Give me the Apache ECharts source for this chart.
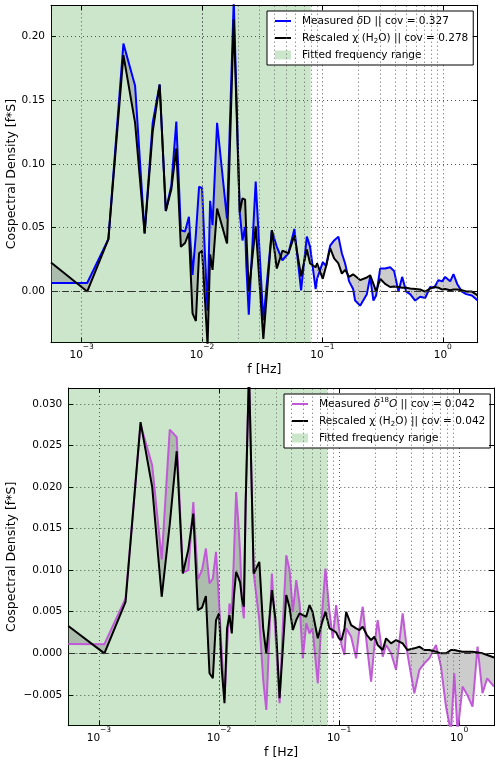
<!DOCTYPE html>
<html>
<head>
<meta charset="utf-8">
<title>Cospectra</title>
<script src="https://cdn.jsdelivr.net/npm/echarts@6/dist/echarts.min.js"></script>
<style>
  html, body { margin: 0; padding: 0; background: #fff; }
  #chart { width: 500px; height: 763px; }
</style>
</head>
<body>
<div id="chart"></div>
<script>
// ---- top panel: dD vs rescaled humidity ----
const freqD = [0.000556, 0.001111, 0.001667, 0.002222, 0.002778, 0.003333, 0.003889, 0.004444, 0.005, 0.005556,
  0.006111, 0.006667, 0.007222, 0.007778, 0.008333, 0.008889, 0.009444, 0.01, 0.010556, 0.011111,
  0.011667, 0.012222, 0.013333, 0.016111, 0.016667, 0.018333, 0.020556, 0.021667, 0.022778, 0.023333,
  0.024444, 0.0279, 0.0323, 0.038, 0.0418, 0.0465, 0.0522, 0.0585, 0.0665, 0.0742,
  0.079, 0.0878, 0.0903, 0.1007, 0.1073, 0.1159, 0.1251, 0.1358, 0.145, 0.1544,
  0.1666, 0.1799, 0.1869, 0.2057, 0.2339, 0.2491, 0.2653, 0.2795, 0.3017, 0.332,
  0.3653, 0.3943, 0.4282, 0.4597, 0.4963, 0.5357, 0.5895, 0.6486, 0.7137, 0.7855,
  0.848, 0.9209, 0.9883, 1.0467, 1.152, 1.227, 1.317, 1.441, 1.564, 1.745, 1.95]
const measuredD = [0.0067, 0.0067, 0.041, 0.194, 0.161, 0.0455, 0.132, 0.162, 0.063, 0.083,
  0.133, 0.048, 0.047, 0.0585, 0.013, 0.045, 0.082, 0.081, 0.030, -0.015,
  0.071, 0.052, 0.132, 0.057, 0.057, 0.228, 0.062, 0.040, 0.0506, 0.020,
  -0.018, 0.086, -0.0225, 0.048, 0.035, 0.0245, 0.030, 0.049, 0.001, 0.043,
  0.035, 0.002, 0.010, 0.023, 0.020, 0.036, 0.040, 0.043, 0.030, 0.022,
  0.008, 0.002, -0.007, -0.011, -0.002, 0.0115, -0.007, -0.003, 0.018, 0.018,
  0.019, 0.016, 0.000, 0.0115, 0.000, -0.002, -0.007, -0.004, -0.005, 0.0036,
  0.003, 0.009, 0.008, 0.0115, 0.008, 0.0136, 0.006, 0.000, -0.002, -0.003, -0.007]
const rescaledD = [0.0227, 0.0, 0.041, 0.185, 0.132, 0.0455, 0.125, 0.162, 0.063, 0.080,
  0.112, 0.035, 0.038, 0.046, -0.017, -0.023, 0.030, 0.032, -0.005, -0.042,
  0.029, 0.017, 0.065, 0.0376, 0.0376, 0.213, 0.062, 0.073, 0.072, 0.045,
  0.000, 0.051, -0.037, 0.048, 0.018, 0.032, 0.030, 0.044, 0.012, 0.033,
  0.022, 0.019, 0.022, 0.010, 0.020, 0.034, 0.026, 0.022, 0.014, 0.017,
  0.0115, 0.0135, 0.012, 0.009, 0.011, 0.0128, 0.006, 0.000, 0.010, 0.006,
  0.0036, 0.004, 0.0036, 0.003, 0.003, 0.0024, 0.002, 0.0016, 0.000, 0.0024,
  0.0036, 0.003, 0.0016, 0.002, 0.001, 0.0016, 0.0016, 0.001, 0.0, 0.0, -0.003]

// ---- bottom panel: d18O vs rescaled humidity ----
const freqO = [0.000556, 0.001111, 0.001667, 0.002222, 0.002778, 0.003333, 0.003889, 0.004444, 0.005, 0.005556,
  0.006111, 0.006667, 0.007222, 0.007778, 0.008333, 0.008889, 0.009444, 0.01, 0.010556, 0.011111,
  0.011667, 0.012222, 0.012778, 0.013333, 0.013889, 0.014444, 0.015, 0.015556, 0.016111, 0.016667,
  0.017778, 0.019444, 0.021667, 0.023333, 0.02477, 0.02757, 0.02959, 0.03195, 0.03417, 0.03632,
  0.0387, 0.04121, 0.04398, 0.04684, 0.04988, 0.05326, 0.05674, 0.0601, 0.0665, 0.0714,
  0.07702, 0.08318, 0.08859, 0.09458, 0.09979, 0.1047, 0.1109, 0.1145, 0.126, 0.1387,
  0.1477, 0.1573, 0.1705, 0.1848, 0.1969, 0.2097, 0.2308, 0.2462, 0.271, 0.2983,
  0.3384, 0.3703, 0.4233, 0.466, 0.5126, 0.5641, 0.6412, 0.7057, 0.7764, 0.8545,
  0.9103, 0.9696, 1.067, 1.168, 1.292, 1.422, 1.564, 1.712, 1.95]
const measuredO = [0.00112, 0.0011, 0.0066, 0.0275, 0.0226, 0.0113, 0.0269, 0.026, 0.0097, 0.0100,
  0.0182, 0.0089, 0.0100, 0.0126, 0.0084, 0.0090, 0.0122, 0.0062, 0.000, -0.0055,
  0.0006, 0.0060, 0.0048, 0.012, 0.0194, 0.0160, 0.0120, 0.0060, 0.0042, 0.018,
  0.034, 0.0096, 0.004, -0.0032, -0.0068, 0.0096, 0.002, -0.0060, 0.004, 0.0118,
  0.010, 0.005, 0.0088, 0.006, -0.0006, 0.0036, 0.0024, 0.0030, -0.0036, 0.004,
  0.0102, 0.005, 0.0018, 0.0058, 0.003, 0.001, -0.0002, 0.003, 0.002, -0.0006,
  0.003, 0.0056, 0.001, -0.0034, 0.001, 0.004, -0.0004, 0.001, 0.000, -0.002,
  0.0048, 0.000, -0.0048, -0.002, -0.0012, -0.0006, 0.001, -0.0016, -0.0064, -0.0095,
  -0.0024, -0.0095, -0.004, -0.005, -0.0064, 0.0008, -0.0048, -0.003, -0.004]
const rescaledO = [0.00328, 0.0, 0.0062, 0.0278, 0.020, 0.0068, 0.0155, 0.0243, 0.0096, 0.0125,
  0.0168, 0.0052, 0.0055, 0.0069, -0.0024, -0.0030, 0.0040, 0.0048, -0.002, -0.0060,
  0.0030, 0.0046, 0.0024, 0.007, 0.0098, 0.0092, 0.0085, 0.0065, 0.0056, 0.018,
  0.034, 0.0096, 0.011, 0.003, 0.000, 0.0076, 0.004, -0.0054, 0.001, 0.0070,
  0.0055, 0.0028, 0.004, 0.0048, 0.0046, 0.0044, 0.0058, 0.0050, 0.0018, 0.0035,
  0.0050, 0.003, 0.0028, 0.0025, 0.0018, 0.0016, 0.0030, 0.005, 0.0034, 0.0030,
  0.0028, 0.0032, 0.0022, 0.0016, 0.0020, 0.001, 0.0004, 0.0018, 0.0012, 0.0016,
  0.0012, 0.0004, 0.0006, 0.0008, 0.0004, 0.0004, 0.0002, 0.0, 0.0, 0.0004,
  0.0004, 0.0003, 0.0002, 0.0002, 0.0002, 0.0001, 0.0, -0.0002, -0.0005]

// axis limits, fitted range, log minor grid
const fMin = 0.000556
const fMax = 1.95
const fitEndD = 0.08
const fitEndO = 0.08
const yRangeD = [-0.04, 0.224]
const yRangeO = [-0.0087, 0.0319]
const minorFreqs = [0.0006, 0.0007, 0.0008, 0.0009, 0.002, 0.003, 0.004, 0.005, 0.006, 0.007, 0.008, 0.009,
  0.02, 0.03, 0.04, 0.05, 0.06, 0.07, 0.08, 0.09, 0.2, 0.3, 0.4, 0.5, 0.6, 0.7, 0.8, 0.9]

const nameMD = 'Measured δD || cov = 0.327'
const nameRD = 'Rescaled χ (H2O) || cov = 0.278'
const nameMO = 'Measured δ18O || cov = 0.042'
const nameRO = 'Rescaled χ (H2O) || cov = 0.042'
const nameFit = 'Fitted frequency range'

const FONT = 'DejaVu Sans'
const PURPLE = '#c05ad6'
const DOTS = [1, 3]
const LINE_ICON = 'path://M0,0M16,9M0,3.5H16V5.5H0Z'

const chart = echarts.init(document.getElementById('chart'))

const legendText = {
  [nameMD]: 'Measured {it|δ}D || cov = 0.327',
  [nameRD]: 'Rescaled χ (H{sub|2}O) || cov = 0.278',
  [nameMO]: 'Measured {it|δ}{sup|18}{it|O} || cov = 0.042',
  [nameRO]: 'Rescaled χ (H{sub|2}O) || cov = 0.042',
  [nameFit]: nameFit
}

const pairs = (f, v) => f.map((x, i) => [x, v[i]])

const minus = s => s.replace('-', '−')

const xMain = (grid) => ({
  type: 'log', gridIndex: grid, min: fMin, max: fMax,
  name: 'f [Hz]', nameLocation: 'middle', nameGap: 21, nameMoveOverlap: false,
  nameTextStyle: { fontFamily: FONT, fontSize: 12.5, color: '#000' },
  axisLine: { show: true, onZero: false, lineStyle: { color: '#000', width: 1 } },
  axisTick: { show: true, inside: true, length: 5, lineStyle: { color: '#000' } },
  axisLabel: {
    showMinLabel: false, showMaxLabel: false, margin: 0, color: '#000',
    formatter: v => {
      const e = Math.round(Math.log10(v))
      return '{b|10}{sup|' + minus(String(e)) + '}'
    },
    rich: {
      b: { fontFamily: FONT, fontSize: 10.5, lineHeight: 18, verticalAlign: 'bottom', color: '#000' },
      sup: { fontFamily: FONT, fontSize: 7.5, lineHeight: 2, verticalAlign: 'top', color: '#000' }
    }
  },
  splitLine: { show: true, lineStyle: { type: DOTS, color: '#555', width: 1 } }
})

const xFrame = (grid) => ({
  type: 'log', gridIndex: grid, min: fMin, max: fMax, position: 'top', z: 10,
  axisLine: { show: true, onZero: false, lineStyle: { color: '#000', width: 1 } },
  axisTick: { show: true, inside: true, length: 5, lineStyle: { color: '#000' } },
  axisLabel: { show: false }, splitLine: { show: false }
})

const yMain = (grid, range, split, digits, gap) => ({
  type: 'value', gridIndex: grid, min: range[0], max: range[1], splitNumber: split,
  name: 'Cospectral Density [f*S]', nameLocation: 'middle', nameGap: gap, nameMoveOverlap: false,
  nameTextStyle: { fontFamily: FONT, fontSize: 12.5, color: '#000' },
  axisLine: { show: true, onZero: false, lineStyle: { color: '#000', width: 1 } },
  axisTick: { show: true, inside: true, length: 5, lineStyle: { color: '#000' } },
  axisLabel: {
    showMinLabel: false, showMaxLabel: false, margin: 6,
    fontFamily: FONT, fontSize: 10.5, color: '#000',
    formatter: v => minus(v.toFixed(digits))
  },
  splitLine: { show: true, lineStyle: { type: DOTS, color: '#555', width: 1 } }
})

const yFrame = (grid, range, split) => ({
  type: 'value', gridIndex: grid, min: range[0], max: range[1], splitNumber: split, position: 'right', z: 10,
  axisLine: { show: true, onZero: false, lineStyle: { color: '#000', width: 1 } },
  axisTick: { show: true, inside: true, length: 5, lineStyle: { color: '#000' } },
  axisLabel: { show: false }, splitLine: { show: false }
})

// green fitted range and minor log grid, also gives the legend patch
const fitSeries = (ax, fitEnd) => ({
  type: 'custom', name: nameFit, xAxisIndex: ax, yAxisIndex: ax, z: 1, silent: true,
  itemStyle: { color: 'rgba(0,128,0,0.2)' },
  data: [],
  renderItem: () => null,
  markArea: {
    silent: true,
    itemStyle: { color: 'rgba(0,128,0,0.2)' },
    data: [[{ xAxis: fMin }, { xAxis: fitEnd }]]
  },
  markLine: {
    silent: true, symbol: ['none', 'none'], label: { show: false },
    lineStyle: { type: DOTS, color: '#666', width: 1 },
    data: minorFreqs.map(v => ({ xAxis: v }))
  }
})

// grey fill between the two curves, plus the dashed zero line
const bandSeries = (ax, f, a, b) => ({
  type: 'custom', xAxisIndex: ax, yAxisIndex: ax, z: 2, silent: true, clip: true,
  data: [[f[0], a[0]]],
  renderItem: (params, api) => {
    const pts = []
    for (let i = 0; i < f.length; i++) pts.push(api.coord([f[i], a[i]]))
    for (let i = f.length - 1; i >= 0; i--) pts.push(api.coord([f[i], b[i]]))
    return { type: 'polygon', shape: { points: pts }, style: { fill: 'rgba(128,128,128,0.4)', stroke: null } }
  },
  markLine: {
    silent: true, symbol: ['none', 'none'], label: { show: false },
    lineStyle: { type: [7, 4], color: '#333', width: 1 },
    data: [{ yAxis: 0 }]
  }
})

const lineSeries = (ax, name, f, v, color, z) => ({
  type: 'line', name, xAxisIndex: ax, yAxisIndex: ax, z,
  data: pairs(f, v), symbol: 'none', showSymbol: false, silent: true,
  lineStyle: { color, width: 2 }, itemStyle: { color }
})

const legendBase = {
  orient: 'vertical', itemWidth: 16, itemHeight: 9, itemGap: 3,
  backgroundColor: '#fff', borderColor: '#000', borderWidth: 1, borderRadius: 0,
  padding: [3, 5, 3, 8],
  textStyle: {
    fontFamily: FONT, fontSize: 10.5, lineHeight: 14, color: '#000', padding: [0, 0, 0, 6],
    rich: {
      it: { fontFamily: FONT, fontStyle: 'italic', fontSize: 10.5, lineHeight: 14, color: '#000' },
      sub: { fontFamily: FONT, fontSize: 7, lineHeight: 8, verticalAlign: 'bottom', color: '#000' },
      sup: { fontFamily: FONT, fontSize: 7, lineHeight: 5, verticalAlign: 'top', color: '#000' }
    }
  },
  formatter: n => legendText[n] || n
}

const option = {
  animation: false,
  backgroundColor: '#fff',
  grid: [
    { left: 51, top: 5.3, width: 426.7, height: 337.4, outerBoundsMode: 'none', containLabel: false },
    { left: 68.3, top: 388, width: 425.7, height: 337.7, outerBoundsMode: 'none', containLabel: false }
  ],
  xAxis: [xMain(0), xMain(1), xFrame(0), xFrame(1)],
  yAxis: [
    yMain(0, yRangeD, 5, 2, 33),
    yMain(1, yRangeO, 8, 3, 50),
    yFrame(0, yRangeD, 5),
    yFrame(1, yRangeO, 8)
  ],
  legend: [
    Object.assign({}, legendBase, {
      left: 267, top: 11,
      data: [{ name: nameMD, icon: LINE_ICON }, { name: nameRD, icon: LINE_ICON }, { name: nameFit, icon: 'rect' }]
    }),
    Object.assign({}, legendBase, {
      left: 284, top: 394,
      data: [{ name: nameMO, icon: LINE_ICON }, { name: nameRO, icon: LINE_ICON }, { name: nameFit, icon: 'rect' }]
    })
  ],
  series: [
    fitSeries(0, fitEndD),
    bandSeries(0, freqD, measuredD, rescaledD),
    lineSeries(0, nameMD, freqD, measuredD, '#0000ff', 3),
    lineSeries(0, nameRD, freqD, rescaledD, '#000000', 4),
    fitSeries(1, fitEndO),
    bandSeries(1, freqO, measuredO, rescaledO),
    lineSeries(1, nameMO, freqO, measuredO, PURPLE, 3),
    lineSeries(1, nameRO, freqO, rescaledO, '#000000', 4)
  ]
}

chart.setOption(option)
</script>
</body>
</html>
